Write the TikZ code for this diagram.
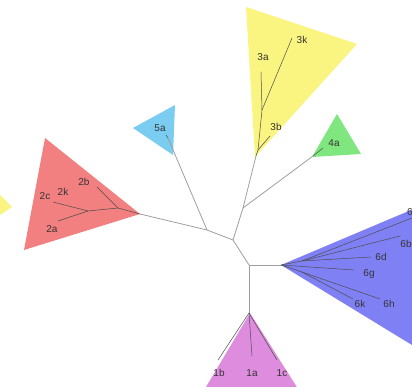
\documentclass[tikz,border=0pt]{standalone}
\usepackage{fontspec}
\setmainfont{Liberation Sans}
\usetikzlibrary{positioning}

\definecolor{cladeYellow}{RGB}{250,244,128}
\definecolor{cladeRed}{RGB}{242,128,128}
\definecolor{cladeSky}{RGB}{122,204,240}
\definecolor{cladeGreen}{RGB}{128,230,128}
\definecolor{cladeBlue}{RGB}{128,128,245}
\definecolor{cladePink}{RGB}{222,140,222}

\begin{document}
\begin{tikzpicture}[
  x=1pt, y=-1pt,
  branch/.style={draw=black!38, line width=0.8pt},
  twig/.style={draw=black!70, line width=0.5pt},
  lbl/.style={font=\fontsize{10}{11}\selectfont, text=black!80, inner sep=1pt}
]
\useasboundingbox (0,0) rectangle (412,387);
\clip (0,0) rectangle (412,387);

% clade triangles
\fill[cladeYellow] (-30,165) -- (12,207) -- (-30,235) -- cycle;
\fill[cladeRed] (45,138) -- (140,214) -- (24,250) -- cycle;
\fill[cladeSky] (133,128) -- (175,105) -- (173,155) -- cycle;
\fill[cladeYellow] (246,7) -- (357,44) -- (255,157) -- cycle;
\fill[cladeGreen] (337,114) -- (361,154) -- (312,157) -- cycle;
\fill[cladeBlue] (281,265) -- (430,202) -- (430,356) -- cycle;
\fill[cladePink] (250,313) -- (203,392) -- (300,392) -- cycle;

% inner coordinates of the tree
\coordinate (root) at (249,265);
\coordinate (jLeft) at (233,240);
\coordinate (jRed) at (207,230);
\coordinate (jUp) at (243,208);
\coordinate (apexRed) at (140,214);
\coordinate (apexSky) at (168,138);
\coordinate (apexYellow) at (256,156);
\coordinate (apexGreen) at (313,156);
\coordinate (apexBlue) at (281,265);
\coordinate (apexPink) at (249,313);

% backbone
\draw[branch] (root) -- (apexPink);
\draw[branch] (root) -- (apexBlue);
\draw[branch] (root) -- (jLeft);
\draw[branch] (jLeft) -- (jRed);
\draw[branch] (jLeft) -- (jUp);
\draw[branch] (jRed) -- (apexRed);
\draw[branch] (jRed) -- (apexSky);
\draw[branch] (jUp) -- (apexYellow);
\draw[branch] (jUp) -- (apexGreen);

% clade 2
\coordinate (j2a) at (118,208);
\coordinate (j2b) at (88,211);
\coordinate (e2b) at (97,187);
\coordinate (e2c) at (53,202);
\coordinate (e2a) at (58,221);
\draw[twig] (apexRed) -- (j2a);
\draw[twig] (j2a) -- (e2b);
\draw[twig] (j2a) -- (j2b);
\draw[twig] (j2b) -- (e2c);
\draw[twig] (j2b) -- (e2a);
\node[lbl] (l2b) at (84,182) {2b};
\node[lbl] (l2c) at (45,196) {2c};
\node[lbl] (l2k) at (63,192) {2k};
\node[lbl] (l2a) at (52,229) {2a};

% clade 5
\coordinate (e5a) at (166,135);
\draw[twig] (apexSky) -- (e5a);
\node[lbl] (l5a) at (160,128) {5a};

% clade 3
\coordinate (j3a) at (258,150);
\coordinate (j3b) at (262,110);
\coordinate (e3b) at (270,136);
\coordinate (e3k) at (292,38);
\coordinate (e3a) at (261,72);
\draw[twig] (apexYellow) -- (j3a);
\draw[twig] (j3a) -- (e3b);
\draw[twig] (j3a) -- (j3b);
\draw[twig] (j3b) -- (e3k);
\draw[twig] (j3b) -- (e3a);
\node[lbl] (l3a) at (263,57) {3a};
\node[lbl] (l3k) at (302,40) {3k};
\node[lbl] (l3b) at (276,127) {3b};

% clade 4
\coordinate (e4a) at (323,148);
\draw[twig] (apexGreen) -- (e4a);
\node[lbl] (l4a) at (334,143) {4a};

% clade 6
\coordinate (j6a) at (302,261);
\coordinate (j6b) at (302,272);
\coordinate (e6x) at (412,218);
\coordinate (e6b) at (400,236);
\coordinate (e6d) at (371,257);
\coordinate (e6g) at (354,270);
\coordinate (e6k) at (353,299);
\coordinate (e6h) at (380,299);
\draw[twig] (apexBlue) -- (j6a);
\draw[twig] (j6a) -- (e6x);
\draw[twig] (j6a) -- (e6b);
\draw[twig] (j6a) -- (e6d);
\draw[twig] (apexBlue) -- (e6g);
\draw[twig] (apexBlue) -- (j6b);
\draw[twig] (j6b) -- (e6k);
\draw[twig] (j6b) -- (e6h);
\node[lbl, anchor=west] (l6e) at (406,212) {6};
\node[lbl] (l6b) at (406,244) {6b};
\node[lbl] (l6d) at (381,257) {6d};
\node[lbl] (l6g) at (369,274) {6g};
\node[lbl] (l6k) at (360,304) {6k};
\node[lbl] (l6h) at (389,304) {6h};

% clade 1
\coordinate (e1b) at (218,360);
\coordinate (e1a) at (252,356);
\coordinate (e1c) at (277,360);
\draw[twig] (apexPink) -- (e1b);
\draw[twig] (apexPink) -- (e1a);
\draw[twig] (apexPink) -- (e1c);
\node[lbl] (l1b) at (219,373) {1b};
\node[lbl] (l1a) at (252,373) {1a};
\node[lbl] (l1c) at (282,373) {1c};

\end{tikzpicture}
\end{document}
